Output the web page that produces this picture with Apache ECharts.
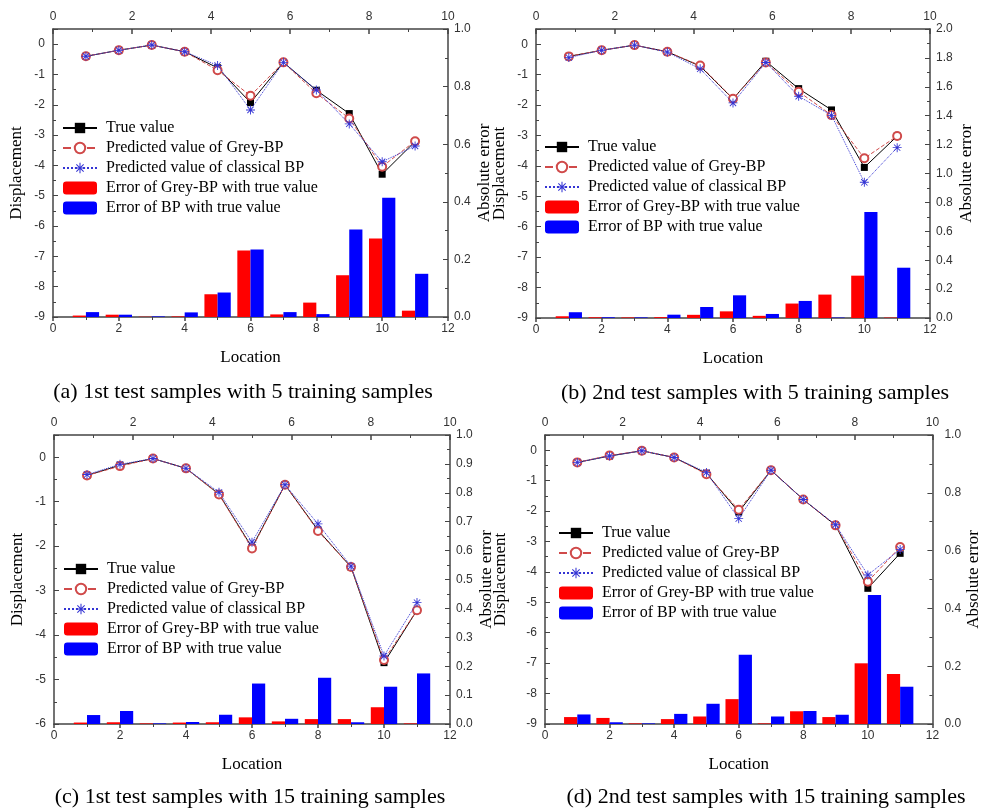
<!DOCTYPE html>
<html>
<head>
<meta charset="utf-8">
<script src="https://cdn.jsdelivr.net/npm/echarts@6/dist/echarts.min.js"></script>
<style>
  html, body { margin: 0; padding: 0; background: #fff; }
  #chart { width: 983px; height: 810px; }
</style>
</head>
<body>
<div id="chart"></div>
<script>
// location of each test point (1..11)
const locations = [1, 2, 3, 4, 5, 6, 7, 8, 9, 10, 11];

// (a) 1st test samples with 5 training samples
const trueA = [-0.40, -0.20, -0.03, -0.25, -0.78, -1.93, -0.60, -1.52, -2.29, -4.29, -3.21];
const greyA = [-0.40, -0.20, -0.03, -0.25, -0.86, -1.70, -0.60, -1.62, -2.45, -4.04, -3.20];
const bpA = [-0.40, -0.20, -0.03, -0.25, -0.70, -2.17, -0.60, -1.51, -2.63, -3.88, -3.36];
const errGreyA = [0.005, 0.008, 0.001, 0.002, 0.079, 0.231, 0.009, 0.050, 0.145, 0.273, 0.022];
const errBpA = [0.017, 0.008, 0.002, 0.016, 0.085, 0.234, 0.017, 0.010, 0.304, 0.414, 0.150];

// (b) 2nd test samples with 5 training samples
const trueB = [-0.40, -0.20, -0.03, -0.25, -0.72, -1.80, -0.56, -1.46, -2.16, -4.05, -3.02];
const greyB = [-0.40, -0.20, -0.03, -0.25, -0.70, -1.79, -0.60, -1.56, -2.33, -3.75, -3.02];
const bpB = [-0.44, -0.20, -0.03, -0.26, -0.81, -1.93, -0.60, -1.71, -2.34, -4.54, -3.40];
const errGreyB = [0.012, 0.005, 0.004, 0.006, 0.022, 0.046, 0.015, 0.100, 0.162, 0.293, 0.003];
const errBpB = [0.040, 0.005, 0.004, 0.023, 0.076, 0.157, 0.028, 0.118, 0.003, 0.733, 0.348];

// (c) 1st test samples with 15 training samples
const trueC = [-0.41, -0.18, -0.03, -0.25, -0.83, -2.03, -0.62, -1.64, -2.47, -4.62, -3.44];
const greyC = [-0.41, -0.20, -0.03, -0.25, -0.84, -2.05, -0.62, -1.66, -2.47, -4.56, -3.44];
const bpC = [-0.39, -0.16, -0.03, -0.25, -0.79, -1.91, -0.62, -1.50, -2.45, -4.47, -3.27];
const errGreyC = [0.005, 0.006, 0.002, 0.005, 0.006, 0.023, 0.009, 0.017, 0.017, 0.058, 0.002];
const errBpC = [0.031, 0.045, 0.002, 0.007, 0.032, 0.140, 0.018, 0.160, 0.006, 0.129, 0.175];

// (d) 2nd test samples with 15 training samples
const trueD = [-0.40, -0.19, -0.02, -0.24, -0.76, -2.03, -0.66, -1.62, -2.47, -4.54, -3.39];
const greyD = [-0.40, -0.17, -0.02, -0.24, -0.79, -1.96, -0.66, -1.62, -2.47, -4.32, -3.18];
const bpD = [-0.40, -0.19, -0.02, -0.24, -0.73, -2.25, -0.66, -1.62, -2.45, -4.10, -3.26];
const errGreyD = [0.024, 0.021, 0.002, 0.017, 0.026, 0.086, 0.002, 0.044, 0.024, 0.210, 0.173];
const errBpD = [0.033, 0.006, 0.002, 0.035, 0.070, 0.240, 0.026, 0.045, 0.032, 0.446, 0.129];

const captions = [
  '(a) 1st test samples with 5 training samples',
  '(b) 2nd test samples with 5 training samples',
  '(c) 1st test samples with 15 training samples',
  '(d) 2nd test samples with 15 training samples'
];
const names = [
  'True value',
  'Predicted value of Grey-BP',
  'Predicted value of classical BP',
  'Error of Grey-BP with true value',
  'Error of BP with true value'
];

const serif = '"Liberation Serif", "Times New Roman", serif';
const sans = '"Liberation Sans", Arial, sans-serif';
const axisColor = '#444';
const asterisk = 'path://M-1,-10L1,-10L1,10L-1,10Z M-10,-1L10,-1L10,1L-10,1Z M-7.7,-6.3L-6.3,-7.7L7.7,6.3L6.3,7.7Z M6.3,-7.7L7.7,-6.3L-6.3,7.7L-7.7,6.3Z';

// layout of the four panels
const panels = [
  { grid: { left: 53, top: 29, width: 395, height: 288 }, yMin: -9, eMax: 1, eInt: 0.2,
    line: [trueA, greyA, bpA], err: [errGreyA, errBpA], legend: { left: 62, top: 120 },
    cap: [243, 392], rMargin: 6, lGap: 28 },
  { grid: { left: 536, top: 29, width: 394, height: 289 }, yMin: -9, eMax: 2, eInt: 0.2,
    line: [trueB, greyB, bpB], err: [errGreyB, errBpB], legend: { left: 544, top: 139 },
    cap: [755, 393], rMargin: 6, lGap: 28 },
  { grid: { left: 54, top: 435, width: 396, height: 289 }, yMin: -6, eMax: 1, eInt: 0.1,
    line: [trueC, greyC, bpC], err: [errGreyC, errBpC], legend: { left: 63, top: 561 },
    cap: [250, 797], rMargin: 6, lGap: 28 },
  { grid: { left: 545, top: 435, width: 397, height: 289 }, yMin: -9, eMax: 1, eInt: 0.2,
    line: [trueD, greyD, bpD], err: [errGreyD, errBpD], legend: { left: 558, top: 525 },
    cap: [766, 797], rMargin: 12, lGap: 36 }
];

const grids = [], xAxes = [], yAxes = [], series = [], legends = [], graphics = [];

panels.forEach(function (p, i) {
  grids.push(p.grid);
  const tickLabel = { color: '#333', fontSize: 12, fontFamily: sans };
  const line = { show: true, onZero: false, lineStyle: { color: axisColor, width: 1.5 } };
  // bottom location axis
  xAxes.push({
    type: 'value', gridIndex: i, position: 'bottom', min: 0, max: 12, interval: 2,
    name: 'Location', nameLocation: 'middle', nameGap: 32,
    nameTextStyle: { fontFamily: serif, fontSize: 17, color: '#000' },
    axisLine: line, axisTick: { inside: false, length: 4, lineStyle: { color: axisColor, width: 1.5 } },
    minorTick: { show: true, splitNumber: 2, length: 3, lineStyle: { color: axisColor } },
    axisLabel: Object.assign({ margin: 6 }, tickLabel), splitLine: { show: false }
  });
  // top axis 0..10
  xAxes.push({
    type: 'value', gridIndex: i, position: 'top', min: 0, max: 10, interval: 2,
    axisLine: line, axisTick: { inside: true, length: 5, lineStyle: { color: axisColor, width: 1.5 } },
    minorTick: { show: true, splitNumber: 2, length: 3, lineStyle: { color: axisColor } },
    axisLabel: Object.assign({ margin: 6 }, tickLabel), splitLine: { show: false }
  });
  // left displacement axis
  yAxes.push({
    type: 'value', gridIndex: i, position: 'left', min: p.yMin, max: 0.5, interval: 1,
    name: 'Displacement', nameLocation: 'middle', nameGap: p.lGap,
    nameTextStyle: { fontFamily: serif, fontSize: 17, color: '#000' },
    axisLine: line, axisTick: { inside: true, length: 5, lineStyle: { color: axisColor } },
    minorTick: { show: true, splitNumber: 2, length: 3, lineStyle: { color: axisColor } },
    axisLabel: Object.assign({ margin: 8, formatter: function (v) { return Number.isInteger(v) ? String(v) : ''; } }, tickLabel),
    splitLine: { show: false }
  });
  // right absolute error axis
  yAxes.push({
    type: 'value', gridIndex: i, position: 'right', min: 0, max: p.eMax, interval: p.eInt,
    name: 'Absolute error', nameLocation: 'middle', nameGap: 28,
    nameTextStyle: { fontFamily: serif, fontSize: 17, color: '#000' },
    axisLine: line, axisTick: { inside: true, length: 5, lineStyle: { color: axisColor } },
    minorTick: { show: true, splitNumber: 2, length: 3, lineStyle: { color: axisColor } },
    axisLabel: Object.assign({ margin: p.rMargin, formatter: function (v) { return v.toFixed(1); } }, tickLabel),
    splitLine: { show: false }
  });

  const barW = p.grid.width / 12 * 0.4;
  series.push({
    name: names[3], type: 'bar', xAxisIndex: 2 * i, yAxisIndex: 2 * i + 1,
    data: locations.map(function (x, k) { return [x, p.err[0][k]]; }),
    barWidth: barW, barGap: '0%', itemStyle: { color: '#ff0000' }, z: 1
  });
  series.push({
    name: names[4], type: 'bar', xAxisIndex: 2 * i, yAxisIndex: 2 * i + 1,
    data: locations.map(function (x, k) { return [x, p.err[1][k]]; }),
    barWidth: barW, barGap: '0%', itemStyle: { color: '#0000ff' }, z: 1
  });
  series.push({
    name: names[0], type: 'line', xAxisIndex: 2 * i, yAxisIndex: 2 * i,
    data: locations.map(function (x, k) { return [x, p.line[0][k]]; }),
    symbol: 'rect', symbolSize: 7, itemStyle: { color: '#000' },
    lineStyle: { color: '#000', width: 1 }, z: 3
  });
  series.push({
    name: names[1], type: 'line', xAxisIndex: 2 * i, yAxisIndex: 2 * i,
    data: locations.map(function (x, k) { return [x, p.line[1][k]]; }),
    symbol: 'emptyCircle', symbolSize: 8, itemStyle: { color: '#d04a4a', borderWidth: 1 },
    lineStyle: { color: '#d04a4a', width: 1, type: 'dashed' }, z: 4
  });
  series.push({
    name: names[2], type: 'line', xAxisIndex: 2 * i, yAxisIndex: 2 * i,
    data: locations.map(function (x, k) { return [x, p.line[2][k]]; }),
    symbol: asterisk, symbolSize: 9, itemStyle: { color: '#3434d4' },
    lineStyle: { color: '#3434d4', width: 1, type: 'dotted' }, z: 5
  });

  legends.push({
    data: names, orient: 'vertical', left: p.legend.left, top: p.legend.top,
    itemWidth: 34, itemHeight: 13, itemGap: 4, padding: 0, selectedMode: false,
    textStyle: { fontFamily: serif, fontSize: 16, color: '#000', padding: [0, 0, 0, 4] }
  });

  graphics.push({
    type: 'text', x: p.cap[0], y: p.cap[1],
    style: { text: captions[i], fontFamily: serif, fontSize: 22, fill: '#000', align: 'center', verticalAlign: 'middle' }
  });
});

const chart = echarts.init(document.getElementById('chart'));
chart.setOption({
  animation: false,
  backgroundColor: '#fff',
  grid: grids,
  xAxis: xAxes,
  yAxis: yAxes,
  legend: legends,
  series: series,
  graphic: graphics
});
window.addEventListener('resize', function () {
  chart.resize();
});
</script>
</body>
</html>
